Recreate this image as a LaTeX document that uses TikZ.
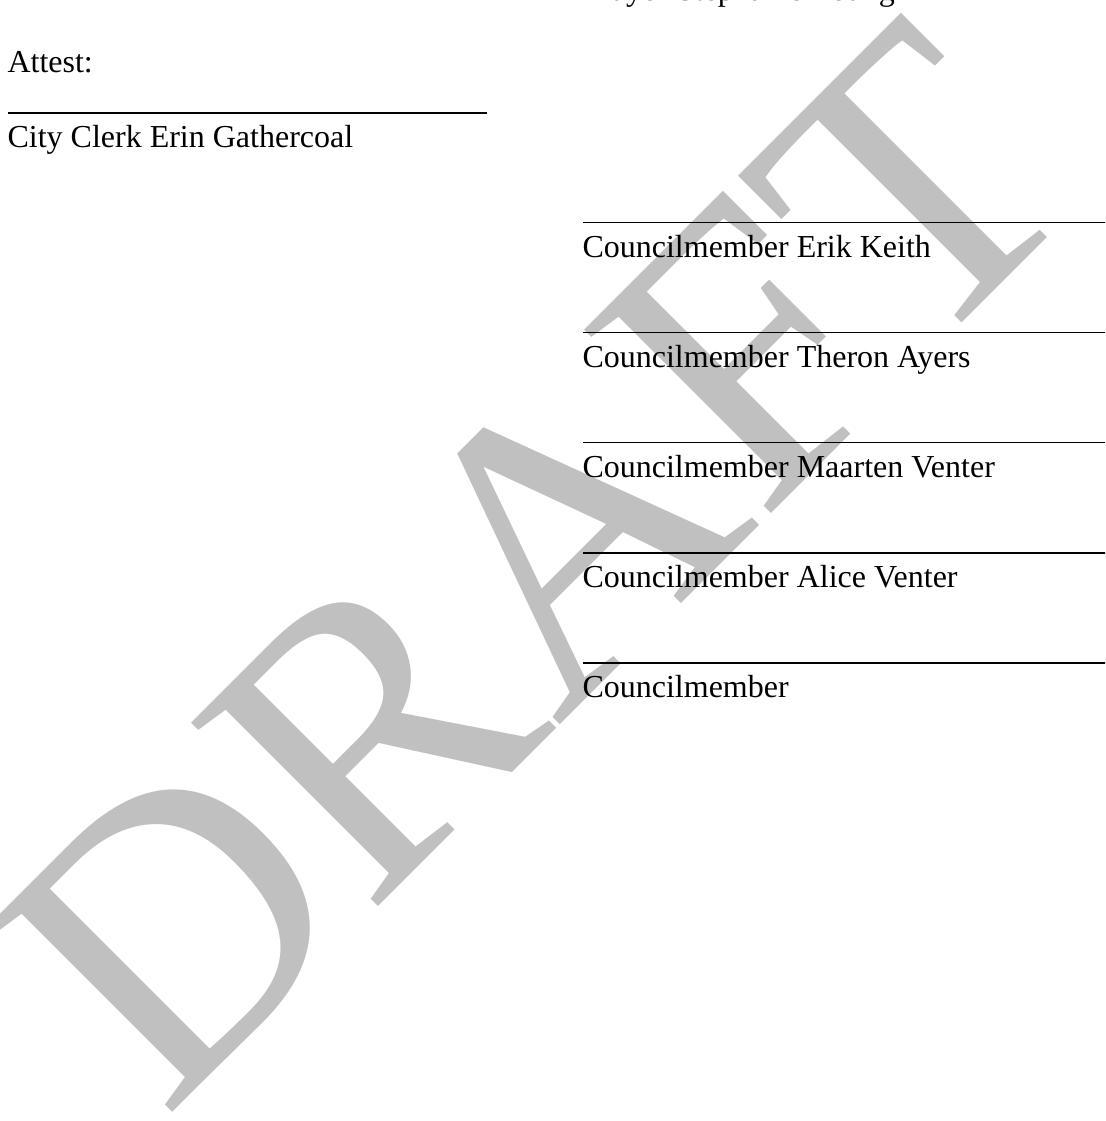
\documentclass[tikz,border=0pt]{standalone}
\usepackage{fontspec}
\setmainfont{Liberation Serif}
\usepackage{tikz}
\definecolor{draftgray}{RGB}{192,192,192}

\tikzset{
	sigtext/.style={anchor=base west, inner sep=0pt, font=\fontsize{12}{14}\selectfont},
	sigline/.style={line width=0.6pt},
	watermark/.style={rotate=45, anchor=base west, inner sep=0pt, text=draftgray, font=\fontsize{150}{150}\selectfont},
}

\begin{document}
\begin{tikzpicture}[x=0.375pt, y=-0.375pt]
	\useasboundingbox (0,0) rectangle (1105,1121);
	\clip (0,0) rectangle (1105,1121);
	\node[watermark] (draft) at (164,1121) {DRAFT};
	\node[sigtext] (mayor) at (583,1) {Mayor Stephanie Young};
	\node[sigtext] (attest) at (7,73) {Attest:};
	\coordinate (clerkL) at (8,113);
	\coordinate (clerkR) at (487,113);
	\draw[sigline] (clerkL) -- (clerkR);
	\node[sigtext] (clerk) at (7,148) {City Clerk Erin Gathercoal};
	\foreach \name [count=\i from 0] in {Erik Keith, Theron Ayers, Maarten Venter, Alice Venter, {}} {
		\coordinate (lineL\i) at (583,{222.7+110*\i});
		\coordinate (lineR\i) at (1110,{222.7+110*\i});
		\draw[sigline] (lineL\i) -- (lineR\i);
		\node[sigtext] (member\i) at (582,{257.7+110*\i}) {Councilmember \name};
	}
\end{tikzpicture}
\end{document}
